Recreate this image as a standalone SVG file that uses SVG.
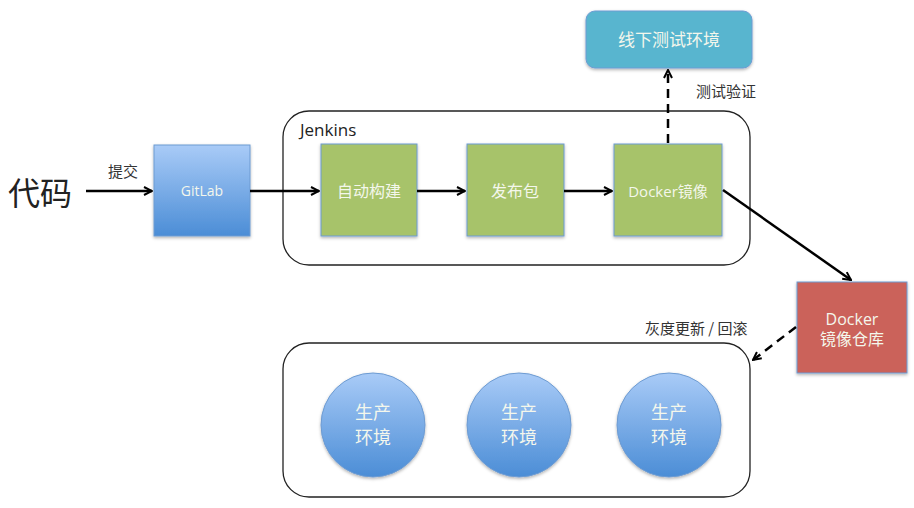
<svg xmlns="http://www.w3.org/2000/svg" width="914" height="508" viewBox="0 0 914 508">
<defs>
<linearGradient id="gBlue" x1="0" y1="0" x2="0" y2="1">
<stop offset="0" stop-color="#a9cbf7"/>
<stop offset="1" stop-color="#4b8dd6"/>
</linearGradient>
<filter id="sh" x="-20%" y="-20%" width="140%" height="140%">
<feDropShadow dx="0" dy="1.5" stdDeviation="1.5" flood-color="#000" flood-opacity="0.3"/>
</filter>
<marker id="ah" viewBox="0 0 10 10" refX="9" refY="5" markerWidth="10" markerHeight="10" markerUnits="userSpaceOnUse" orient="auto">
<path d="M1,1 L9,5 L1,9" fill="none" stroke="#000" stroke-width="2"/>
</marker>
</defs>
<style>
.cont{fill:none;stroke:#222;stroke-width:1.3}
.box{stroke:#6d9bd2;stroke-width:1;filter:url(#sh)}
.green{fill:#a7c36a}
.lbl{font-family:"Open Sans","Noto Sans CJK SC",sans-serif;fill:#f4f7ec;font-size:16px;text-anchor:middle}
.big{font-size:18px}
.dark{font-family:"Noto Sans CJK SC",sans-serif;fill:#333;font-size:15px}
.conn{stroke:#000;stroke-width:2.5;fill:none;marker-end:url(#ah)}
.dash{stroke-dasharray:9,6}
</style>
<rect width="914" height="508" fill="#fff"/>

<g id="containers">
<rect id="jenkins" class="cont" x="283" y="111" width="467" height="154" rx="26"/>
<text x="300" y="136" font-family="Open Sans, sans-serif" font-size="17" fill="#222">Jenkins</text>
<rect id="prod" class="cont" x="283" y="343" width="467" height="154" rx="26"/>
</g>

<g id="code">
<text x="8" y="205" font-family="Noto Sans CJK SC, sans-serif" font-size="32" fill="#222">代码</text>
</g>

<g id="gitlab">
<rect class="box" x="154" y="145" width="96" height="91" fill="url(#gBlue)"/>
<text class="lbl" x="202" y="196" style="font-size:14px">GitLab</text>
</g>

<g id="build">
<rect class="box green" x="321" y="144" width="96" height="92"/>
<text class="lbl" x="369" y="197">自动构建</text>
</g>

<g id="package">
<rect class="box green" x="467" y="144" width="97" height="92"/>
<text class="lbl" x="515" y="197">发布包</text>
</g>

<g id="dockerimg">
<rect class="box green" x="614" y="144" width="108" height="92"/>
<text class="lbl" x="668" y="197" style="font-size:15px">Docker镜像</text>
</g>

<g id="testenv">
<rect class="box" x="586" y="11" width="166" height="57" rx="9" fill="#58b5cf" stroke="#4fa3bd"/>
<text class="lbl" x="669" y="46" style="font-size:17px">线下测试环境</text>
</g>

<g id="registry">
<rect class="box" x="797" y="282" width="110" height="91" fill="#cb625a"/>
<text class="lbl" x="852" y="325">Docker</text>
<text class="lbl" x="852" y="345">镜像仓库</text>
</g>

<g id="prod1">
<circle cx="373" cy="425" r="52" fill="url(#gBlue)" stroke="#6d9bd2" filter="url(#sh)"/>
<text class="lbl big" x="373" y="419">生产</text>
<text class="lbl big" x="373" y="444">环境</text>
</g>
<g id="prod2">
<circle cx="519" cy="425" r="52" fill="url(#gBlue)" stroke="#6d9bd2" filter="url(#sh)"/>
<text class="lbl big" x="519" y="419">生产</text>
<text class="lbl big" x="519" y="444">环境</text>
</g>
<g id="prod3">
<circle cx="669" cy="425" r="52" fill="url(#gBlue)" stroke="#6d9bd2" filter="url(#sh)"/>
<text class="lbl big" x="669" y="419">生产</text>
<text class="lbl big" x="669" y="444">环境</text>
</g>

<g id="connectors">
<line class="conn" x1="86" y1="191" x2="152" y2="191"/>
<text class="dark" x="108" y="177">提交</text>
<line class="conn" x1="250" y1="191" x2="319" y2="191"/>
<line class="conn" x1="417" y1="191" x2="465" y2="191"/>
<line class="conn" x1="564" y1="191" x2="612" y2="191"/>
<line class="conn dash" x1="668" y1="143" x2="668" y2="70"/>
<text class="dark" x="696" y="97">测试验证</text>
<line class="conn" x1="723" y1="190" x2="851" y2="280"/>
<line class="conn dash" x1="796" y1="327" x2="753" y2="360"/>
<text class="dark" x="645" y="334">灰度更新 / 回滚</text>
</g>
</svg>
